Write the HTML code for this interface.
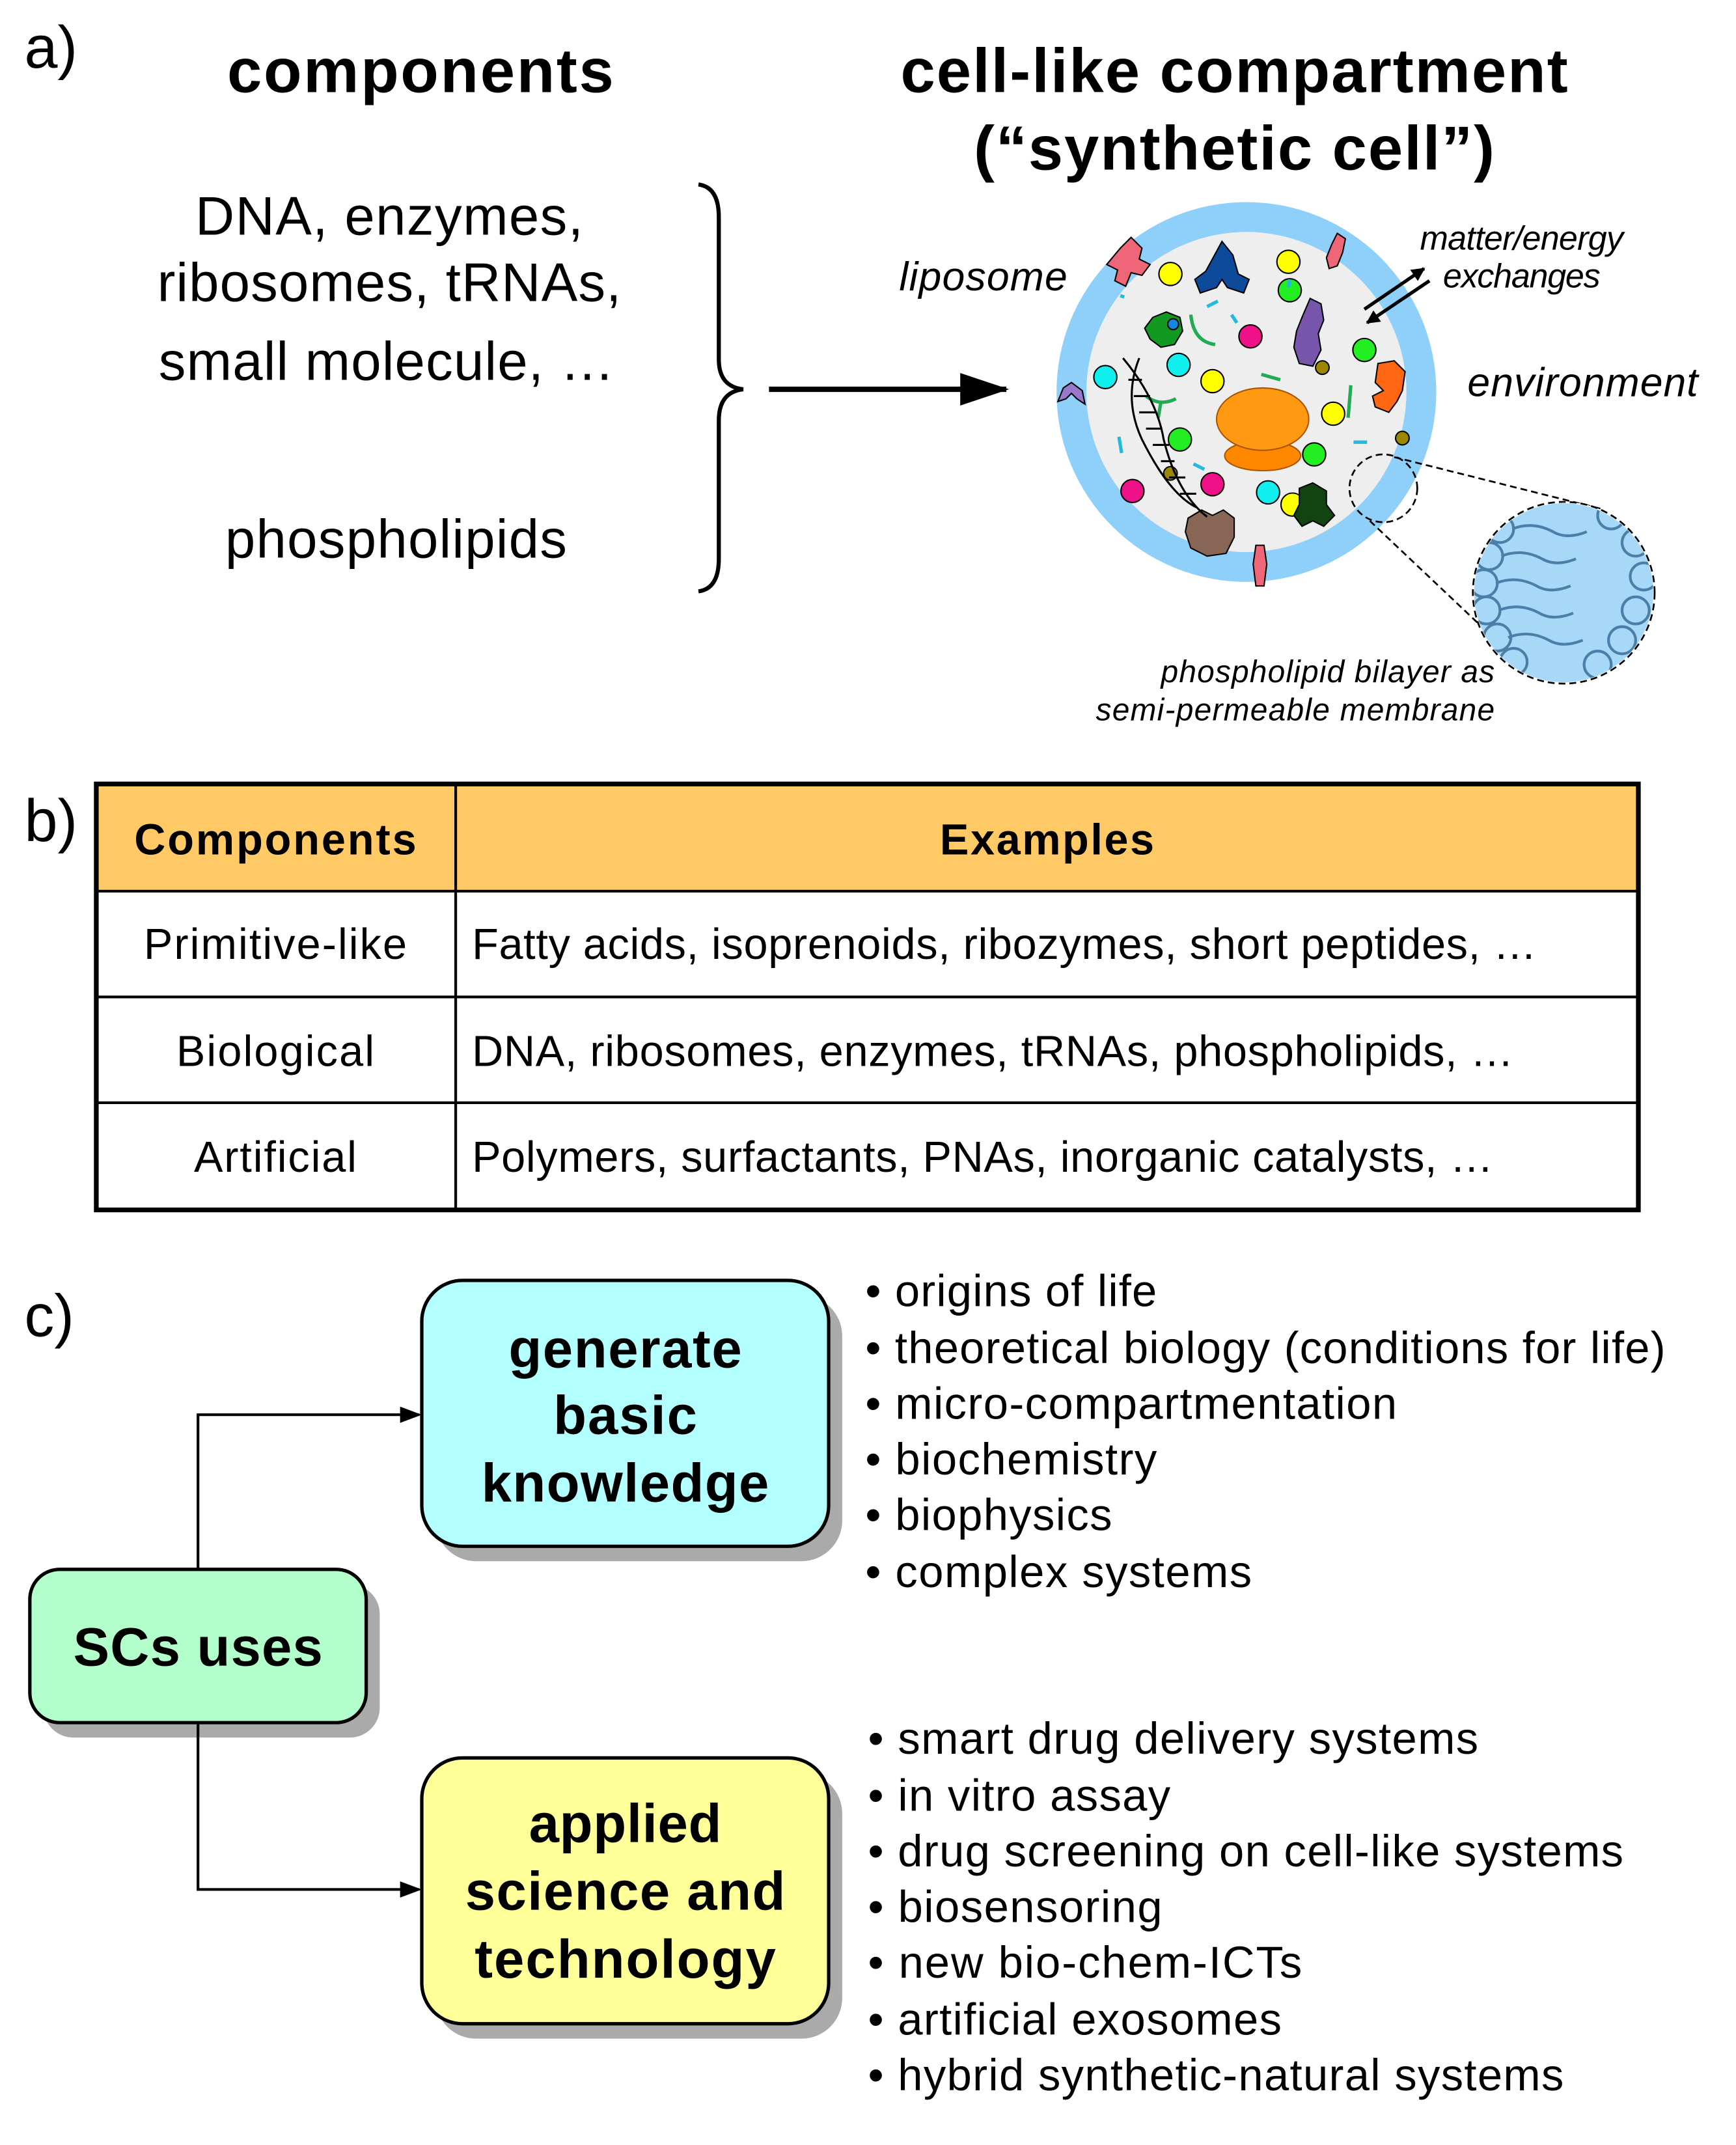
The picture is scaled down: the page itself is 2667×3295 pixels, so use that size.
<!DOCTYPE html>
<html><head><meta charset="utf-8"><style>html,body{margin:0;padding:0;background:#fff}svg{display:block}</style></head>
<body>
<svg width="2667" height="3295" viewBox="0 0 1280 1581.4" preserveAspectRatio="none" xmlns="http://www.w3.org/2000/svg" font-family="'Liberation Sans', Arial, sans-serif">
<defs>
<marker id="ah" markerWidth="10" markerHeight="10" refX="9" refY="5" orient="auto" markerUnits="userSpaceOnUse"><path d="M0,0 L10,5 L0,10 z" fill="#000"/></marker>
<marker id="ah2" markerWidth="36" markerHeight="24" refX="34" refY="12" orient="auto" markerUnits="userSpaceOnUse"><path d="M0,0 L36,12 L0,24 z" fill="#000"/></marker>
<marker id="ah3" markerWidth="16" markerHeight="16" refX="14" refY="8" orient="auto" markerUnits="userSpaceOnUse"><path d="M0,2 L16,8 L0,14 z" fill="#000"/></marker>
<clipPath id="zc"><circle cx="1153" cy="437" r="66"/></clipPath>
</defs>
<!-- a -->
<text x="18" y="50" font-size="44">a)</text>
<text x="310" y="68" font-size="46" font-weight="bold" text-anchor="middle" textLength="285">components</text>
<text x="910" y="68" font-size="46" font-weight="bold" text-anchor="middle" textLength="492">cell-like compartment</text>
<text x="910" y="125" font-size="46" font-weight="bold" text-anchor="middle" textLength="384">(“synthetic cell”)</text>
<g font-size="40" text-anchor="middle">
<text x="287" y="173" textLength="286">DNA, enzymes,</text>
<text x="287" y="222" textLength="342">ribosomes, tRNAs,</text>
<text x="285" y="280" textLength="336">small molecule, …</text>
<text x="292" y="411" textLength="252">phospholipids</text>
</g>
<path d="M515,136 Q530,138 530,160 L530,265 Q530,285 548,287 Q530,289 530,310 L530,412 Q530,434 515,436" fill="none" stroke="#000" stroke-width="3"/>
<line x1="567" y1="287" x2="742" y2="287" stroke="#000" stroke-width="4" marker-end="url(#ah2)"/>
<g font-style="italic">
<text x="663" y="214" font-size="30" textLength="124">liposome</text>
<text x="1122" y="184" font-size="25" text-anchor="middle" textLength="150">matter/energy</text>
<text x="1122" y="212" font-size="25" text-anchor="middle" textLength="116">exchanges</text>
<text x="1082" y="292" font-size="30" textLength="170">environment</text>
<text x="1102" y="503" font-size="23" text-anchor="end" textLength="246">phospholipid bilayer as</text>
<text x="1102" y="531" font-size="23" text-anchor="end" textLength="294">semi-permeable membrane</text>
</g>
<!-- cell -->
<circle cx="919" cy="289" r="140" fill="#8fd0fb"/>
<circle cx="919" cy="289" r="118" fill="#eeeeee"/>
<g stroke="#000" stroke-width="1">
<circle cx="863" cy="202" r="8.5" fill="#ffff00"/>
<circle cx="950" cy="193" r="8.5" fill="#ffff00"/>
<circle cx="951" cy="214" r="8.5" fill="#22ee22"/>
<circle cx="922" cy="248" r="8.5" fill="#ee1188"/>
<circle cx="1006" cy="258" r="8.5" fill="#22ee22"/>
<circle cx="869" cy="269" r="8.5" fill="#11eeee"/>
<circle cx="815" cy="278" r="8.5" fill="#11eeee"/>
<circle cx="894" cy="281" r="8.5" fill="#ffff00"/>
<circle cx="983" cy="305" r="8.5" fill="#ffff00"/>
<circle cx="870" cy="324" r="8.5" fill="#22ee22"/>
<circle cx="969" cy="335" r="8.5" fill="#22ee22"/>
<circle cx="835" cy="362" r="8.5" fill="#ee1188"/>
<circle cx="894" cy="357" r="8.5" fill="#ee1188"/>
<circle cx="935" cy="363" r="8.5" fill="#11eeee"/>
<circle cx="953" cy="372" r="8.5" fill="#ffff00"/>
<circle cx="1034" cy="323" r="5" fill="#998800"/>
<circle cx="863" cy="349" r="5" fill="#998800"/>
<circle cx="975" cy="271" r="5" fill="#998800"/>
</g>
<g stroke="#000" stroke-width="1">
<path d="M826,183 l8,-8 l8,8 l-2,8 l8,4 l-6,8 l-8,-2 l-4,10 l-8,-4 l2,-8 l-8,-4 z" fill="#ee6677"/>
<path d="M901,178 l8,10 l4,14 l8,4 l-4,10 l-12,-4 l-4,-6 l-4,6 l-12,4 l-4,-10 l8,-6 z" fill="#0d4a9a"/>
<path d="M986,172 l6,4 l-2,10 l-4,10 l-6,2 l-2,-8 l4,-10 z" fill="#ee6677"/>
<path d="M850,234 l10,-4 l10,4 l2,10 l-6,10 l-10,2 l-8,-6 l-4,-8 z" fill="#119922"/>
<circle cx="865" cy="239" r="4" fill="#1188dd"/>
<path d="M966,220 l8,4 l2,12 l-4,10 l2,12 l-6,12 l-10,-2 l-4,-12 l2,-12 l4,-10 z" fill="#7755aa"/>
<path d="M784,286 l6,-4 l8,6 l2,10 l-6,-4 l-4,-4 l-4,4 l-6,2 z" fill="#9977cc"/>
<path d="M1016,268 l12,-2 l8,8 l-2,14 l-4,8 l-6,8 l-10,-4 l-2,-8 l8,-4 l-6,-6 z" fill="#ff6611"/>
<path d="M958,360 l10,-4 l10,6 l0,10 l6,8 l-8,8 l-8,-4 l-8,4 l-6,-8 l4,-8 z" fill="#114411"/>
<path d="M876,382 l10,-6 l8,4 l8,-4 l8,6 l0,14 l-6,12 l-14,2 l-12,-6 l-4,-12 z" fill="#886655"/>
<path d="M926,402 l6,0 l2,14 l-2,16 l-6,0 l-2,-16 z" fill="#ee6677"/>
</g>
<ellipse cx="931" cy="336" rx="28" ry="11" fill="#ff8800" stroke="#aa5500" stroke-width="1"/>
<ellipse cx="931" cy="309" rx="34" ry="23" fill="#ff9911" stroke="#aa5500" stroke-width="1"/>
<g stroke="#22aa55" stroke-width="2.5" fill="none">
<path d="M878,232 q2,20 18,22"/><path d="M930,276 l14,4"/><path d="M845,292 q10,8 22,2 M856,296 l-2,12"/><path d="M996,284 l-2,24"/>
</g>
<g stroke="#22bbdd" stroke-width="2.5" fill="none">
<path d="M826,218 l3,1"/><path d="M890,226 l8,-4"/><path d="M908,232 l4,6"/><path d="M950,212 l1,-6"/><path d="M825,322 l2,12"/><path d="M880,342 l8,4"/><path d="M998,326 l10,0"/>
</g>
<g stroke="#000" stroke-width="1.5" fill="none">
<path d="M828,264 q25,30 30,60 q10,40 32,57"/><path d="M840,264 q-12,30 2,60 q20,40 40,50"/>
<path d="M832,280 l10,0 M836,292 l12,0 M840,304 l12,0 M845,316 l12,0 M850,328 l12,0 M856,340 l10,0 M862,352 l12,0 M870,364 l12,0"/>
</g>
<line x1="1006" y1="228" x2="1050" y2="198" stroke="#000" stroke-width="2.5" marker-end="url(#ah)"/>
<line x1="1054" y1="207" x2="1008" y2="238" stroke="#000" stroke-width="2.5" marker-end="url(#ah)"/>
<!-- zoom -->
<circle cx="1020" cy="360" r="25" fill="none" stroke="#000" stroke-width="1.3" stroke-dasharray="5,3"/>
<line x1="1028" y1="337" x2="1180" y2="375" stroke="#000" stroke-width="1.3" stroke-dasharray="5,3"/>
<line x1="1010" y1="384" x2="1120" y2="488" stroke="#000" stroke-width="1.3" stroke-dasharray="5,3"/>
<circle cx="1153" cy="437" r="67" fill="#fff"/>
<g clip-path="url(#zc)">
<rect x="1086" y="370" width="134" height="134" fill="#a8d8f8"/>
<g fill="#a8d8f8" stroke="#4a7fa8" stroke-width="2">
<circle cx="1106" cy="390" r="10"/><circle cx="1098" cy="410" r="10"/><circle cx="1094" cy="430" r="10"/><circle cx="1096" cy="450" r="10"/><circle cx="1104" cy="470" r="10"/><circle cx="1116" cy="488" r="10"/>
<circle cx="1188" cy="380" r="10"/><circle cx="1206" cy="400" r="10"/><circle cx="1212" cy="425" r="10"/><circle cx="1206" cy="450" r="10"/><circle cx="1196" cy="472" r="10"/><circle cx="1178" cy="490" r="10"/>
</g>
<g fill="none" stroke="#4a7fa8" stroke-width="2">
<path d="M1115,390 q15,-6 30,2 q10,6 25,0 M1107,410 q15,-6 30,2 q10,6 25,0 M1103,430 q15,-6 30,2 q10,6 25,0 M1105,450 q15,-6 30,2 q10,6 25,0 M1112,470 q15,-6 30,2 q10,6 25,0"/>
</g>
</g>
<circle cx="1153" cy="437" r="67" fill="none" stroke="#000" stroke-width="1.3" stroke-dasharray="5,3"/>
<!-- b table -->
<text x="18" y="620" font-size="44">b)</text>
<rect x="71" y="578" width="1137" height="79" fill="#ffc966"/>
<g stroke="#000" stroke-width="2">
<line x1="71" y1="657" x2="1208" y2="657"/><line x1="71" y1="735" x2="1208" y2="735"/><line x1="71" y1="813" x2="1208" y2="813"/><line x1="336" y1="578" x2="336" y2="892"/>
</g>
<rect x="71" y="578" width="1137" height="314" fill="none" stroke="#000" stroke-width="3.5"/>
<g font-size="32">
<text x="203" y="630" font-weight="bold" text-anchor="middle" textLength="208">Components</text>
<text x="772" y="630" font-weight="bold" text-anchor="middle" textLength="158">Examples</text>
<text x="203" y="707" text-anchor="middle" textLength="194">Primitive-like</text>
<text x="203" y="786" text-anchor="middle" textLength="146">Biological</text>
<text x="203" y="864" text-anchor="middle" textLength="120">Artificial</text>
<text x="348" y="707" textLength="785">Fatty acids, isoprenoids, ribozymes, short peptides, …</text>
<text x="348" y="786" textLength="768">DNA, ribosomes, enzymes, tRNAs, phospholipids, …</text>
<text x="348" y="864" textLength="753">Polymers, surfactants, PNAs, inorganic catalysts, …</text>
</g>
<!-- c -->
<text x="18" y="985" font-size="44">c)</text>
<g fill="#aaaaaa">
<rect x="321" y="955" width="300" height="196" rx="30"/>
<rect x="32" y="1168" width="248" height="113" rx="22"/>
<rect x="321" y="1307" width="300" height="196" rx="30"/>
</g>
<rect x="311" y="944" width="300" height="196" rx="30" fill="#b3ffff" stroke="#000" stroke-width="2.5"/>
<rect x="22" y="1157" width="248" height="113" rx="22" fill="#b3ffcc" stroke="#000" stroke-width="2.5"/>
<rect x="311" y="1296" width="300" height="196" rx="30" fill="#ffff99" stroke="#000" stroke-width="2.5"/>
<path d="M146,1157 V1043 H309" fill="none" stroke="#000" stroke-width="2" marker-end="url(#ah3)"/>
<path d="M146,1270 V1393 H309" fill="none" stroke="#000" stroke-width="2" marker-end="url(#ah3)"/>
<g font-size="40" font-weight="bold" text-anchor="middle">
<text x="461" y="1008" textLength="172">generate</text><text x="461" y="1057" textLength="106">basic</text><text x="461" y="1107" textLength="212">knowledge</text>
<text x="146" y="1228" textLength="184">SCs uses</text>
<text x="461" y="1358" textLength="142">applied</text><text x="461" y="1408" textLength="236">science and</text><text x="461" y="1458" textLength="222">technology</text>
</g>
<g font-size="33">
<text x="638" y="963" textLength="215">• origins of life</text>
<text x="638" y="1005" textLength="590">• theoretical biology (conditions for life)</text>
<text x="638" y="1046" textLength="392">• micro-compartmentation</text>
<text x="638" y="1087" textLength="215">• biochemistry</text>
<text x="638" y="1128" textLength="182">• biophysics</text>
<text x="638" y="1170" textLength="285">• complex systems</text>
<text x="640" y="1293" textLength="450">• smart drug delivery systems</text>
<text x="640" y="1335" textLength="223">• in vitro assay</text>
<text x="640" y="1376" textLength="557">• drug screening on cell-like systems</text>
<text x="640" y="1417" textLength="217">• biosensoring</text>
<text x="640" y="1458" textLength="320">• new bio-chem-ICTs</text>
<text x="640" y="1500" textLength="305">• artificial exosomes</text>
<text x="640" y="1541" textLength="513">• hybrid synthetic-natural systems</text>
</g>
</svg>
</body></html>
